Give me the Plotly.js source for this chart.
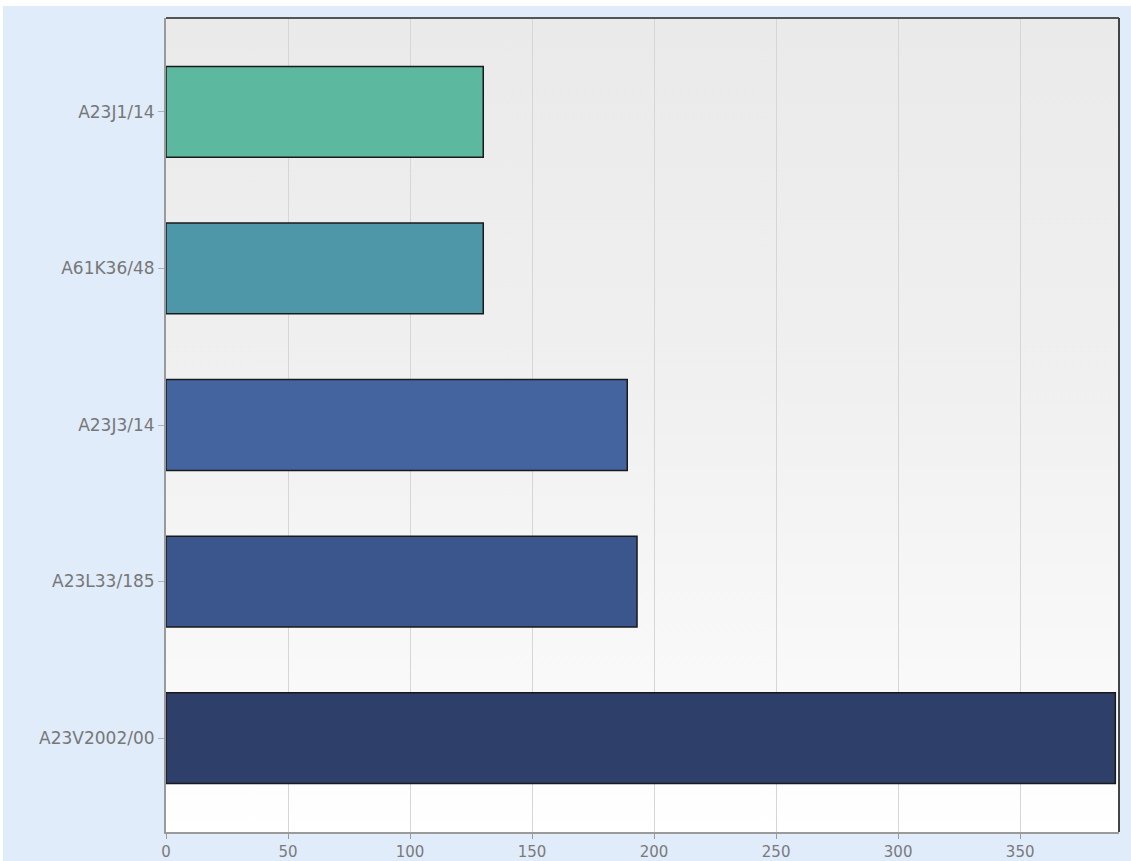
<!DOCTYPE html>
<html>
<head>
<meta charset="utf-8">
<script src="https://cdn.plot.ly/plotly-3.0.1.min.js"></script>
<style>html,body{margin:0;padding:0;background:#fff;}#chart{width:1131px;height:861px;}</style>
</head>
<body>
<div id="chart"></div>
<script>
const categories = ["A23J1/14", "A61K36/48", "A23J3/14", "A23L33/185", "A23V2002/00"];
const values = [130, 130, 189, 193, 389];
const barColors = ["#5cb89f", "#4e97a8", "#4464a0", "#3b558d", "#2e3f6a"];
const xTicks = [0, 50, 100, 150, 200, 250, 300, 350];

const gradSvg = '<svg xmlns="http://www.w3.org/2000/svg" width="100" height="100" preserveAspectRatio="none">' +
  '<defs><linearGradient id="g" x1="0" y1="0" x2="0" y2="1">' +
  '<stop offset="0" stop-color="#eaeaea"/><stop offset="0.45" stop-color="#f0f0f0"/><stop offset="0.85" stop-color="#fafafa"/><stop offset="1" stop-color="#ffffff"/>' +
  '</linearGradient></defs><rect width="100" height="100" fill="url(#g)"/></svg>';
const gradUri = 'data:image/svg+xml;charset=utf-8,' + encodeURIComponent(gradSvg);

const trace = {
  type: 'bar',
  orientation: 'h',
  x: values,
  y: categories,
  width: 0.58,
  marker: { color: barColors, line: { color: '#1a1a1a', width: 1.5 } },
  hoverinfo: 'x+y'
};

const layout = {
  width: 1131,
  height: 861,
  margin: { l: 166, r: 12, t: 18, b: 29, pad: 0 },
  paper_bgcolor: '#e0ecfa',
  plot_bgcolor: '#f3f3f3',
  showlegend: false,
  font: { family: 'DejaVu Sans, sans-serif', size: 17, color: '#777777' },
  xaxis: {
    range: [0, 390.5],
    tickvals: xTicks,
    ticktext: xTicks.map(String),
    ticks: 'outside', ticklen: 5, tickcolor: '#9a9a9a', tickwidth: 1,
    showgrid: true, gridcolor: '#d6d6d6', gridwidth: 1,
    showline: true, linecolor: '#9a9a9a', linewidth: 2,
    zeroline: false,
    tickfont: { family: 'DejaVu Sans, sans-serif', size: 15, color: '#7a7a7a' }
  },
  yaxis: {
    type: 'category',
    categoryorder: 'array',
    categoryarray: categories,
    range: [4.6, -0.6],
    ticks: 'outside', ticklen: 6, tickcolor: '#b0b0b0', tickwidth: 1,
    showgrid: false,
    showline: true, linecolor: '#9a9a9a', linewidth: 2,
    zeroline: false,
    tickfont: { family: 'DejaVu Sans, sans-serif', size: 17, color: '#777777' }
  },
  images: [{
    source: gradUri, xref: 'paper', yref: 'paper', x: 0, y: 1, sizex: 1, sizey: 1,
    xanchor: 'left', yanchor: 'top', sizing: 'stretch', layer: 'below'
  }],
  shapes: [
    { type: 'line', xref: 'paper', yref: 'paper', x0: 0, x1: 1, y0: 1, y1: 1, line: { color: '#555555', width: 2 } },
    { type: 'line', xref: 'paper', yref: 'paper', x0: 1, x1: 1, y0: 0, y1: 1, line: { color: '#444444', width: 2 } },
    { type: 'rect', xref: 'paper', yref: 'paper', x0: -0.2, x1: 1.02, y0: 1.0147, y1: 1.05, fillcolor: '#ffffff', line: { width: 0 }, layer: 'above' },
    { type: 'rect', xref: 'paper', yref: 'paper', x0: -0.2, x1: -0.1712, y0: -0.05, y1: 1.05, fillcolor: '#ffffff', line: { width: 0 }, layer: 'above' }
  ]
};

Plotly.newPlot('chart', [trace], layout, { displayModeBar: false, staticPlot: true });
</script>
</body>
</html>
